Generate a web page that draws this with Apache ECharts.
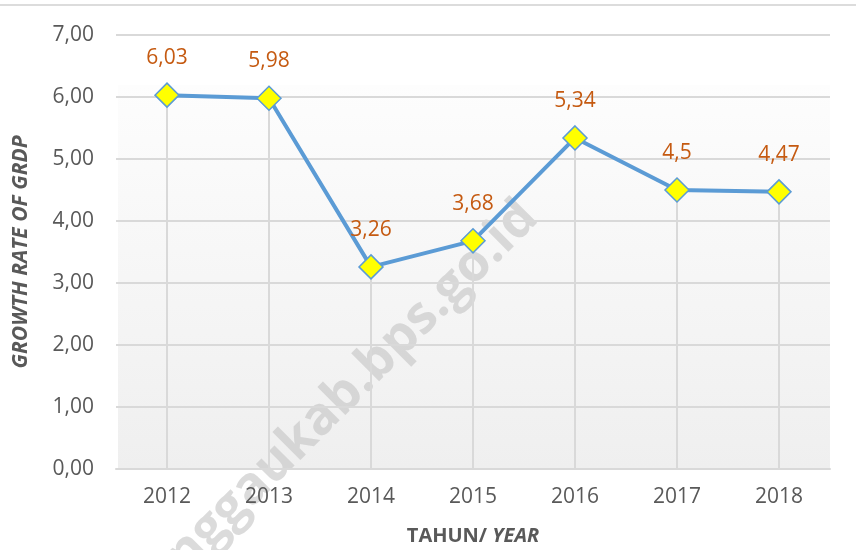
<!DOCTYPE html>
<html>
<head>
<meta charset="utf-8">
<script src="https://cdn.jsdelivr.net/npm/echarts@6/dist/echarts.min.js"></script>
<style>
html,body{margin:0;padding:0;background:#fff;}
#main{width:856px;height:550px;}
</style>
</head>
<body>
<div id="main"></div>
<script>
var years = ['2012', '2013', '2014', '2015', '2016', '2017', '2018'];
var growth = [6.03, 5.98, 3.26, 3.68, 5.34, 4.5, 4.47];
var yTicks = [0, 1, 2, 3, 4, 5, 6, 7];

var FONT = '"Open Sans", "Noto Sans", sans-serif';
var chart = echarts.init(document.getElementById('main'), null, {renderer: 'canvas'});
function comma(v) { return String(v).replace('.', ','); }

chart.setOption({
  backgroundColor: '#ffffff',
  animation: false,
  grid: {left: 116, right: 26, top: 35, bottom: 81, containLabel: false, outerBoundsMode: 'none'},
  graphic: [
    {type: 'line', z: -100, shape: {x1: 0, y1: 5, x2: 856, y2: 5}, style: {stroke: '#dcdcdc', lineWidth: 2}},
    {type: 'rect', z: -100, shape: {x: 118, y: 85, width: 712, height: 384},
      style: {fill: new echarts.graphic.LinearGradient(0, 0, 0, 1, [
        {offset: 0, color: '#fdfdfd'}, {offset: 1, color: '#efefef'}])}},
    {type: 'text', z: -50, x: 548, y: 228, rotation: Math.PI / 4,
      style: {text: 'sanggaukab.bps.go.id', fill: 'rgba(195,195,195,0.6)',
        font: 'bold 52px ' + FONT, align: 'right', verticalAlign: 'bottom'}}
  ],
  xAxis: {
    type: 'category', data: years, boundaryGap: true,
    axisLine: {show: true, lineStyle: {color: '#d9d9d9', width: 2}},
    axisTick: {show: false},
    axisLabel: {color: '#595959', fontSize: 21, fontFamily: FONT, margin: 18},
    splitLine: {show: false},
    name: '{b|TAHUN/ }{bi|YEAR}', nameLocation: 'middle', nameGap: 57,
    nameTextStyle: {rich: {
      b: {fontWeight: 'bold', fontSize: 20, color: '#595959', fontFamily: FONT},
      bi: {fontWeight: 'bold', fontStyle: 'italic', fontSize: 20, color: '#595959', fontFamily: FONT}
    }}
  },
  yAxis: {
    type: 'value', min: 0, max: 7, interval: 1,
    axisLine: {show: false}, axisTick: {show: false},
    axisLabel: {color: '#595959', fontSize: 21, fontFamily: FONT, margin: 22,
      formatter: function (v) { return v.toFixed(2).replace('.', ','); }},
    splitLine: {lineStyle: {color: '#d9d9d9', width: 2}},
    name: 'GROWTH RATE OF GRDP', nameLocation: 'middle', nameGap: 84, nameRotate: 90,
    nameTextStyle: {fontWeight: 'bold', fontStyle: 'italic', fontSize: 21, color: '#595959', fontFamily: FONT}
  },
  series: [
    {type: 'bar', data: growth, barWidth: 2, silent: true, z: 1,
      itemStyle: {color: '#d9d9d9'}},
    {type: 'line', data: growth, z: 3, symbol: 'diamond', symbolSize: 24,
      lineStyle: {color: '#5b9bd5', width: 4},
      itemStyle: {color: '#ffff00', borderColor: '#5b9bd5', borderWidth: 1.5},
      label: {show: true, position: 'top', distance: 14, color: '#c55a11', fontSize: 21, fontFamily: FONT,
        formatter: function (p) { return comma(p.value); }}
    }
  ]
});
</script>
</body>
</html>
